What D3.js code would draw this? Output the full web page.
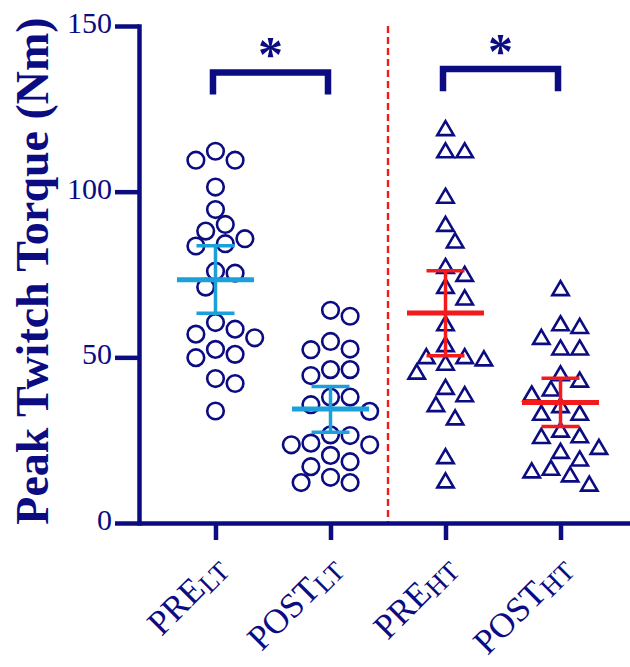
<!DOCTYPE html>
<html>
<head>
<meta charset="utf-8">
<script src="https://cdn.jsdelivr.net/npm/d3@7"></script>
<style>
  html, body { margin: 0; padding: 0; background: #ffffff; }
  svg { display: block; }
</style>
</head>
<body>
<svg id="chart" width="630" height="667"></svg>
<script>
// ---- data -------------------------------------------------------------
const groups    = ["PRE_LT", "POST_LT", "PRE_HT", "POST_HT"];
const groupMain = ["PRE", "POST", "PRE", "POST"];
const groupSub  = ["LT", "LT", "HT", "HT"];

// peak twitch torque (Nm), one value per participant
const preLT  = [112.2, 109.5, 109.5, 101.4, 94.6, 90.1, 88.1, 85.8, 84.3, 83.6, 76.0, 75.4,
                71.2, 58.5, 60.5, 55.9, 57.0, 52.4, 49.9, 50.9, 43.6, 42.1, 33.8];
const postLT = [64.2, 62.4, 54.8, 52.3, 52.5, 46.3, 44.5, 46.3, 38.0, 38.0, 35.7, 33.7,
                26.6, 24.1, 23.6, 23.6, 26.4, 18.5, 13.8, 17.0, 20.4, 12.2, 12.2];
const preHT  = [119.3, 112.6, 112.6, 98.9, 90.4, 85.4, 77.7, 75.3, 71.7, 68.2, 60.4, 54.1,
                49.8, 50.5, 48.5, 50.5, 45.8, 41.2, 39.0, 36.0, 32.0, 20.3, 13.0];
const postHT = [71.0, 56.3, 60.4, 59.6, 53.1, 53.1, 45.3, 43.4, 40.7, 39.2, 35.7, 33.4,
                33.4, 26.6, 26.4, 28.3, 21.9, 23.1, 19.6, 16.8, 14.8, 16.0, 12.0];

// group mean with 95% confidence interval
const means  = [73.4, 34.4, 63.4, 36.4];
const ciLow  = [63.3, 27.4, 50.5, 29.1];
const ciHigh = [83.7, 41.2, 76.1, 43.7];

const yTicks = [0, 50, 100, 150];

// significant pre/post comparisons
const comparisons = [["PRE_LT", "POST_LT"], ["PRE_HT", "POST_HT"]];
const compLabels  = ["*", "*"];

// ---- drawing ----------------------------------------------------------
const navy = "#0c0c82";
const blue = "#1ca0da";
const red  = "#f21a1a";
const serif = "'Liberation Serif', 'Times New Roman', Times, serif";

const series = [preLT, postLT, preHT, postHT];
const shapes = ["circle", "circle", "triangle", "triangle"];
const barColors = [blue, blue, red, red];

const svg = d3.select("#chart");
const margin = { left: 139, top: 26 };
const plotH = 497;
const plotW = 498;

const y = d3.scaleLinear().domain([0, 150]).range([margin.top + plotH, margin.top]);
const x = d3.scalePoint().domain(groups)
  .range([margin.left, margin.left + plotW]).padding(0.665);

// vertical separator between the two load conditions
const sepX = (x("POST_LT") + x("PRE_HT")) / 2;
svg.append("line")
  .attr("x1", sepX).attr("x2", sepX)
  .attr("y1", y(150)).attr("y2", y(0))
  .attr("stroke", red).attr("stroke-width", 2.4)
  .attr("stroke-dasharray", "7,4");

// horizontal spreading of the points so the symbols don't pile up
function swarm(values, cx, step, minDist) {
  const order = values.map((v, i) => i).sort((a, b) => values[b] - values[a]);
  const placed = [];
  const xs = new Array(values.length);
  for (const i of order) {
    const py = y(values[i]);
    for (let k = 0; k < 60; k++) {
      const m = k === 0 ? 0 : (k % 2 ? Math.ceil(k / 2) : -Math.ceil(k / 2));
      const px = cx + m * step;
      if (placed.every(p => Math.hypot(p[0] - px, p[1] - py) >= minDist)) {
        placed.push([px, py]);
        xs[i] = px;
        break;
      }
    }
  }
  return xs;
}

const triPath = "M0,-6.6 L8.2,7.4 L-8.2,7.4 Z";

series.forEach((vals, gi) => {
  const cx = x(groups[gi]);
  const isCircle = shapes[gi] === "circle";
  const xs = swarm(vals, cx, isCircle ? 9.8 : 9.6, isCircle ? 17.5 : 18);
  const g = svg.append("g").attr("class", "points-" + groups[gi]);
  if (isCircle) {
    g.selectAll("circle").data(vals).join("circle")
      .attr("cx", (d, i) => xs[i]).attr("cy", d => y(d)).attr("r", 8.3)
      .attr("fill", "none").attr("stroke", navy).attr("stroke-width", 2.6);
  } else {
    g.selectAll("path").data(vals).join("path")
      .attr("d", triPath)
      .attr("transform", (d, i) => `translate(${xs[i]},${y(d)})`)
      .attr("fill", "none").attr("stroke", navy).attr("stroke-width", 2.6)
      .attr("stroke-linejoin", "miter");
  }
});

// mean and 95% CI
groups.forEach((grp, gi) => {
  const cx = x(grp);
  const c = barColors[gi];
  const g = svg.append("g").attr("class", "summary-" + grp);
  g.append("line").attr("x1", cx).attr("x2", cx)
    .attr("y1", y(ciLow[gi])).attr("y2", y(ciHigh[gi]))
    .attr("stroke", c).attr("stroke-width", 3.5);
  [ciLow[gi], ciHigh[gi]].forEach(v => {
    g.append("line").attr("x1", cx - 19).attr("x2", cx + 19)
      .attr("y1", y(v)).attr("y2", y(v))
      .attr("stroke", c).attr("stroke-width", 3.5);
  });
  g.append("line").attr("x1", cx - 38.5).attr("x2", cx + 38.5)
    .attr("y1", y(means[gi])).attr("y2", y(means[gi]))
    .attr("stroke", c).attr("stroke-width", 5);
});

// axes
const yAxis = d3.axisLeft(y).tickValues(yTicks).tickSize(24).tickSizeOuter(0).tickPadding(3);
const yg = svg.append("g").attr("transform", `translate(${margin.left},0)`).call(yAxis);
yg.select(".domain").attr("stroke", navy).attr("stroke-width", 4.5).attr("stroke-linecap", "square");
yg.selectAll(".tick line").attr("stroke", navy).attr("stroke-width", 4.5);
yg.selectAll(".tick text").attr("fill", navy).attr("dy", "0.22em")
  .style("font-family", serif).style("font-size", "30px");

const xAxis = d3.axisBottom(x).tickSize(17).tickSizeOuter(0).tickFormat("");
const xg = svg.append("g").attr("transform", `translate(0,${y(0)})`).call(xAxis);
xg.select(".domain").attr("stroke", navy).attr("stroke-width", 4.5);
xg.selectAll(".tick line").attr("stroke", navy).attr("stroke-width", 4.5);
xg.selectAll(".tick text").remove();

groups.forEach((grp, gi) => {
  const t = svg.append("text")
    .attr("transform", `translate(${x(grp) + 13},${y(0) + 47}) rotate(-45)`)
    .attr("text-anchor", "end")
    .attr("fill", navy)
    .style("font-family", serif)
    .style("font-size", "35px");
  t.append("tspan").text(groupMain[gi]);
  t.append("tspan").attr("dy", 4).style("font-size", "27px").text(groupSub[gi]);
});

// y axis title
svg.append("text")
  .attr("transform", `translate(48,271) rotate(-90)`)
  .attr("text-anchor", "middle")
  .attr("fill", navy)
  .style("font-family", serif)
  .style("font-weight", "bold")
  .style("font-size", "46px")
  .text("Peak Twitch Torque (Nm)");

// significance brackets
const bracketLevel = [136, 137];
const bracketDrop = 6.7;
comparisons.forEach((pair, ci) => {
  const x1 = x(pair[0]) - 2.5;
  const x2 = x(pair[1]) - 2.5;
  const top = y(bracketLevel[ci]);
  const bottom = y(bracketLevel[ci] - bracketDrop);
  svg.append("path")
    .attr("d", `M${x1},${bottom} L${x1},${top} L${x2},${top} L${x2},${bottom}`)
    .attr("fill", "none").attr("stroke", navy).attr("stroke-width", 6.5)
    .attr("stroke-linejoin", "miter");
  svg.append("text")
    .attr("x", (x1 + x2) / 2)
    .attr("y", top - 1)
    .attr("text-anchor", "middle")
    .attr("fill", navy)
    .style("font-family", serif)
    .style("font-weight", "bold")
    .style("font-size", "50px")
    .text(compLabels[ci]);
});
</script>
</body>
</html>
